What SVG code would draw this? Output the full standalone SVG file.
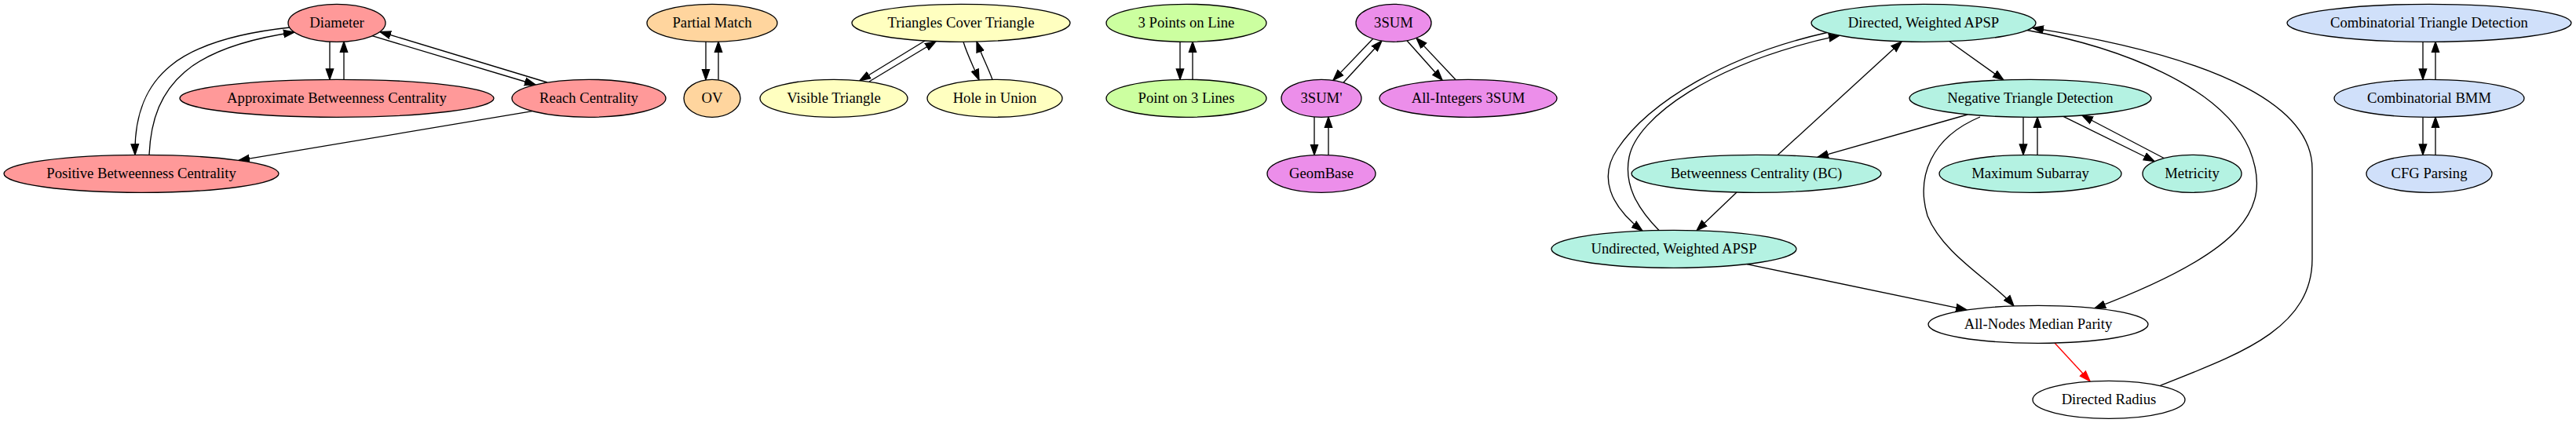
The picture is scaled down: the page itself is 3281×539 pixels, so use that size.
<svg xmlns="http://www.w3.org/2000/svg" width="3281" height="539" viewBox="0 0 3281 539">
<defs>
<style>
.node ellipse{stroke:#000;stroke-width:1.33}
.node text{font-family:"Liberation Serif","Times New Roman",serif;font-size:18.67px;text-anchor:middle;fill:#000}
.red ellipse{fill:#ff9999}
.orange ellipse{fill:#ffd59e}
.yellow ellipse{fill:#ffffc0}
.green ellipse{fill:#ccffa0}
.pink ellipse{fill:#ec8eea}
.teal ellipse{fill:#b4f2e2}
.blue ellipse{fill:#d0e0fa}
.white ellipse{fill:#ffffff}
#edges path{fill:none;stroke:#000;stroke-width:1.33;marker-end:url(#ah)}
#edges path.hl{stroke:#ff0000;marker-end:url(#ahr)}
</style>
<marker id="ah" markerUnits="userSpaceOnUse" markerWidth="16" markerHeight="12" refX="14" refY="6" orient="auto" viewBox="0 0 16 12"><path d="M0.5,1.3 L14,6 L0.5,10.7 Z" fill="#000" stroke="#000" stroke-width="1.33"/></marker>
<marker id="ahr" markerUnits="userSpaceOnUse" markerWidth="16" markerHeight="12" refX="14" refY="6" orient="auto" viewBox="0 0 16 12"><path d="M0.5,1.3 L14,6 L0.5,10.7 Z" fill="#ff0000" stroke="#ff0000" stroke-width="1.33"/></marker>
</defs>
<rect x="0" y="0" width="3281" height="539" fill="#ffffff"/>

<g id="edges">
<!-- red cluster -->
<path d="M420,53 L420,101.3"/>
<path d="M438,101.3 L438,53"/>
<path d="M474,45.7 L682,108"/>
<path d="M697,105 L484,40.5"/>
<path d="M369,35 C230,50 170,95 172,197.3"/>
<path d="M190,197.3 C194,105 245,60 375,41"/>
<path d="M678,141.6 L304,204.4"/>
<!-- orange -->
<path d="M899,53 L899,101.8"/>
<path d="M915,101.8 L915,53"/>
<!-- yellow -->
<path d="M1178,52 L1095,102.8"/>
<path d="M1107,104 L1192,52.7"/>
<path d="M1227,53.3 C1232,70 1240,85 1247,102"/>
<path d="M1264,101.4 C1258,85 1250,70 1244,53"/>
<!-- green -->
<path d="M1503,53.2 L1503,101.4"/>
<path d="M1519,101.4 L1519,53.2"/>
<!-- pink -->
<path d="M1749,49 L1698,102.4"/>
<path d="M1711,105.2 L1760,52"/>
<path d="M1792,51.7 L1837,102.3"/>
<path d="M1854,101.5 L1804,48.4"/>
<path d="M1674,149 L1674,197.5"/>
<path d="M1692,197.5 L1692,149"/>
<!-- teal -->
<path d="M2483,52.7 L2552,102"/>
<path d="M2506,146 L2315,200.4"/>
<path d="M2264,197.7 L2422,53"/>
<path d="M2212,245 L2161,293.8"/>
<path d="M2327,41.5 C2200,70 2100,130 2060,190 C2036,225 2050,262 2092,294.2"/>
<path d="M2113,293.5 C2085,265 2068,235 2075,200 C2085,150 2180,80 2343,45.2"/>
<path d="M2577,149.3 L2577,197.4"/>
<path d="M2595,197.4 L2595,149.3"/>
<path d="M2628,148.4 L2744,205.5"/>
<path d="M2758,202.5 L2652,147"/>
<path d="M2522,149 C2460,175 2440,225 2455,275 C2475,325 2540,360 2565,389.9"/>
<path d="M2582,38.5 C2700,60 2830,110 2865,190 C2895,265 2860,320 2668,392.7"/>
<path d="M2751,491.5 C2850,452 2945,420 2945,330 L2945,215 C2945,140 2840,75 2589,35.6"/>
<path d="M2225,336.6 L2505,394.9"/>
<path class="hl" d="M2617,437 L2662,485.8"/>
<!-- blue -->
<path d="M3086,53.2 L3086,101.4"/>
<path d="M3102,101.4 L3102,53.2"/>
<path d="M3086,149.3 L3086,197.4"/>
<path d="M3102,197.4 L3102,149.3"/>
</g>

<g id="n-diameter" class="node red"><ellipse cx="429" cy="29.3" rx="62" ry="24"/><text x="429" y="35.3">Diameter</text></g>
<g id="n-approx-bc" class="node red"><ellipse cx="429" cy="125.3" rx="200" ry="24"/><text x="429" y="131.3">Approximate Betweenness Centrality</text></g>
<g id="n-reach" class="node red"><ellipse cx="750" cy="125.3" rx="98" ry="24"/><text x="750" y="131.3">Reach Centrality</text></g>
<g id="n-positive-bc" class="node red"><ellipse cx="180" cy="221.3" rx="175" ry="24"/><text x="180" y="227.3">Positive Betweenness Centrality</text></g>

<g id="n-partial-match" class="node orange"><ellipse cx="907" cy="29.3" rx="83" ry="24"/><text x="907" y="35.3">Partial Match</text></g>
<g id="n-ov" class="node orange"><ellipse cx="907" cy="125.3" rx="36" ry="24"/><text x="907" y="131.3">OV</text></g>

<g id="n-tct" class="node yellow"><ellipse cx="1224" cy="29.3" rx="139" ry="24"/><text x="1224" y="35.3">Triangles Cover Triangle</text></g>
<g id="n-visible" class="node yellow"><ellipse cx="1062" cy="125.3" rx="94" ry="24"/><text x="1062" y="131.3">Visible Triangle</text></g>
<g id="n-hole" class="node yellow"><ellipse cx="1267" cy="125.3" rx="86" ry="24"/><text x="1267" y="131.3">Hole in Union</text></g>

<g id="n-3pol" class="node green"><ellipse cx="1511" cy="29.3" rx="102" ry="24"/><text x="1511" y="35.3">3 Points on Line</text></g>
<g id="n-po3l" class="node green"><ellipse cx="1511" cy="125.3" rx="102" ry="24"/><text x="1511" y="131.3">Point on 3 Lines</text></g>

<g id="n-3sum" class="node pink"><ellipse cx="1775" cy="29.3" rx="48" ry="24"/><text x="1775" y="35.3">3SUM</text></g>
<g id="n-3sump" class="node pink"><ellipse cx="1683" cy="125.3" rx="51" ry="24"/><text x="1683" y="131.3">3SUM'</text></g>
<g id="n-allint" class="node pink"><ellipse cx="1870" cy="125.3" rx="113" ry="24"/><text x="1870" y="131.3">All-Integers 3SUM</text></g>
<g id="n-geombase" class="node pink"><ellipse cx="1683" cy="221.3" rx="69" ry="24"/><text x="1683" y="227.3">GeomBase</text></g>

<g id="n-dwapsp" class="node teal"><ellipse cx="2450" cy="29.3" rx="143" ry="24"/><text x="2450" y="35.3">Directed, Weighted APSP</text></g>
<g id="n-ntd" class="node teal"><ellipse cx="2586" cy="125.3" rx="154" ry="24"/><text x="2586" y="131.3">Negative Triangle Detection</text></g>
<g id="n-bc" class="node teal"><ellipse cx="2237" cy="221.3" rx="159" ry="24"/><text x="2237" y="227.3">Betweenness Centrality (BC)</text></g>
<g id="n-maxsub" class="node teal"><ellipse cx="2586" cy="221.3" rx="116" ry="24"/><text x="2586" y="227.3">Maximum Subarray</text></g>
<g id="n-metricity" class="node teal"><ellipse cx="2792" cy="221.3" rx="63" ry="24"/><text x="2792" y="227.3">Metricity</text></g>
<g id="n-uwapsp" class="node teal"><ellipse cx="2132" cy="317.3" rx="156" ry="24"/><text x="2132" y="323.3">Undirected, Weighted APSP</text></g>
<g id="n-anmp" class="node white"><ellipse cx="2596" cy="413.3" rx="140" ry="24"/><text x="2596" y="419.3">All-Nodes Median Parity</text></g>
<g id="n-dr" class="node white"><ellipse cx="2686" cy="509.3" rx="97" ry="24"/><text x="2686" y="515.3">Directed Radius</text></g>

<g id="n-ctd" class="node blue"><ellipse cx="3094" cy="29.3" rx="181" ry="24"/><text x="3094" y="35.3">Combinatorial Triangle Detection</text></g>
<g id="n-cbmm" class="node blue"><ellipse cx="3094" cy="125.3" rx="121" ry="24"/><text x="3094" y="131.3">Combinatorial BMM</text></g>
<g id="n-cfg" class="node blue"><ellipse cx="3094" cy="221.3" rx="80" ry="24"/><text x="3094" y="227.3">CFG Parsing</text></g>
</svg>
